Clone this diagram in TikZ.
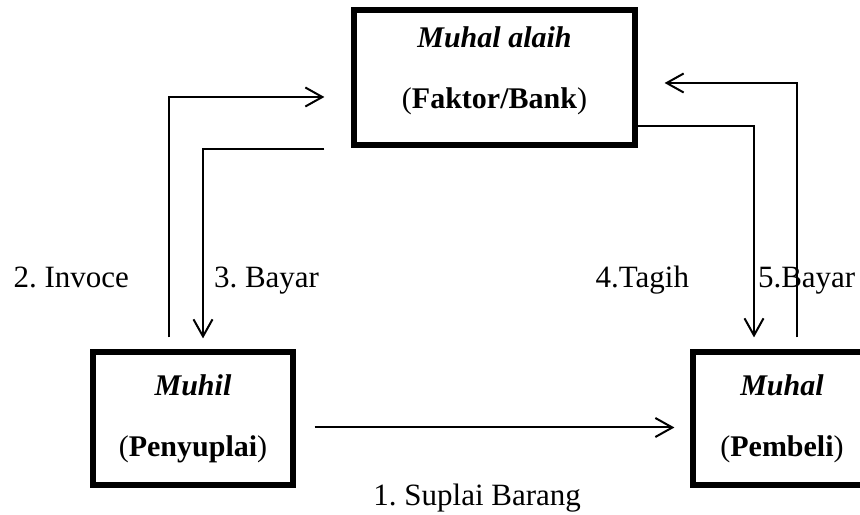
\documentclass[tikz,border=0pt]{standalone}
\usepackage{fontspec}
\setmainfont{Liberation Serif}
\usetikzlibrary{arrows.meta}
\frenchspacing

\tikzset{
  party/.style={draw, line width=2.6bp, align=center, inner sep=0pt,
    font=\fontsize{15bp}{30.5bp}\selectfont},
  flow/.style={->, line width=1bp},
  steplabel/.style={inner sep=0pt, text height=16bp, text depth=3.5bp,
    font=\fontsize{15.5bp}{18bp}\selectfont},
}

\begin{document}
\begin{tikzpicture}[>={Straight Barb[length=8.5bp,width=9.5bp,line width=1bp]},x=0.5bp,y=-0.5bp,line join=miter]
  \clip (0,0) rectangle (860,515);
  %% parties
  % Node: faktor
  \node[party, minimum width=140.5bp, minimum height=67.5bp, text depth=9.5bp] (faktor) at (494.5,77.5)
    {\textbf{\textit{Muhal alaih}}\\(\textbf{Faktor/Bank})};
  % Node: muhil
  \node[party, minimum width=100bp, minimum height=66.5bp] (muhil) at (193,418.5)
    {\textbf{\textit{Muhil}}\\(\textbf{Penyuplai})};
  % Node: muhal
  \node[party, minimum width=89bp, minimum height=66.5bp] (muhal) at (782,418.5)
    {\textbf{\textit{Muhal}}\\(\textbf{Pembeli})};
  %% flows
  % Edge: muhil -> muhal
  \draw[flow, shorten <=9.5bp, shorten >=8bp] ([yshift=-4.5bp]muhil.east) -- node[steplabel, pos=.46, yshift=-32.5bp] {1. Suplai Barang} ([yshift=-4.5bp]muhal.west);
  % Edge: muhil -> faktor
  \draw[flow, shorten <=6bp, shorten >=13.5bp] ([xshift=-12bp]muhil.north) |- node[steplabel, pos=.147, left=19.5bp] {2. Invoce} ([yshift=-9.75bp]faktor.west);
  % Edge: faktor -> muhil
  \draw[flow, shorten <=13.5bp, shorten >=5.5bp] ([yshift=-35.75bp]faktor.west) -| node[steplabel, pos=.815, right=5bp] {3. Bayar} ([xshift=5bp]muhil.north);
  % Edge: faktor -> muhal
  \draw[flow, shorten >=6bp] ([yshift=-24.25bp]faktor.east) -| node[steplabel, pos=.834, left=32bp] {4.Tagih} ([xshift=-14bp]muhal.north);
  % Edge: muhal -> faktor
  \draw[flow, shorten <=6bp, shorten >=13.5bp] ([xshift=7.5bp]muhal.north) |- node[steplabel, pos=.139, anchor=west, xshift=-20bp] {5.Bayar} ([yshift=-2.75bp]faktor.east);
  %
\end{tikzpicture}
\end{document}
